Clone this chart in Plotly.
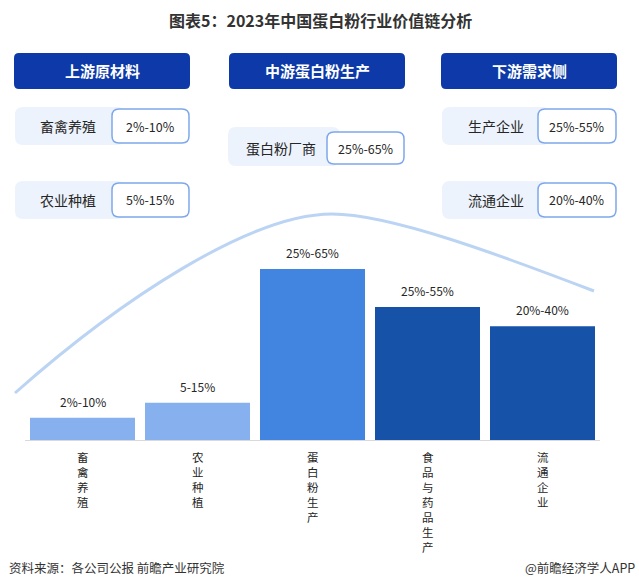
import plotly.graph_objects as go

# ---------------- data ----------------
categories = ["畜禽养殖", "农业种植", "蛋白粉生产", "食品与药品生产", "流通企业"]
bar_values = [8.5, 14.2, 65, 50.5, 43.2]
bar_labels = ["2%-10%", "5-15%", "25%-65%", "25%-55%", "20%-40%"]

stage_titles = ["上游原材料", "中游蛋白粉生产", "下游需求侧"]
upstream_items = ["畜禽养殖", "农业种植"]
upstream_margins = ["2%-10%", "5%-15%"]
midstream_items = ["蛋白粉厂商"]
midstream_margins = ["25%-65%"]
downstream_items = ["生产企业", "流通企业"]
downstream_margins = ["25%-55%", "20%-40%"]

title_text = "图表5：2023年中国蛋白粉行业价值链分析"
source_text = "资料来源：各公司公报 前瞻产业研究院"
brand_text = "@前瞻经济学人APP"

# ---------------- style ----------------
W, H = 639, 588
FONT = "Noto Sans CJK SC"
bar_colors = ["#86B1EE", "#86B1EE", "#4285E0", "#1652A8", "#1652A8"]
HEADER = "#0D3AA8"
LIGHT = "#EDF3FC"
BORDER = "#7EA8EA"
TXT = "#262626"


def px(x):
    return x / W


def py(y):
    return 1 - y / H


def rrect(x0, y0, x1, y1, r):
    pts = [
        ("M", (x0 + r, y0)), ("L", (x1 - r, y0)), ("Q", (x1, y0), (x1, y0 + r)),
        ("L", (x1, y1 - r)), ("Q", (x1, y1), (x1 - r, y1)),
        ("L", (x0 + r, y1)), ("Q", (x0, y1), (x0, y1 - r)),
        ("L", (x0, y0 + r)), ("Q", (x0, y0), (x0 + r, y0)),
    ]
    s = ""
    for p in pts:
        cmd = p[0]
        coords = " ".join(f"{px(a):.5f},{py(b):.5f}" for a, b in p[1:])
        s += f"{cmd} {coords} "
    return s + "Z"


def txt(text, x, y, size, color=TXT, xanchor="center", **kw):
    d = dict(text=text, x=px(x), y=py(y), xref="paper", yref="paper", showarrow=False,
             xanchor=xanchor, yanchor="middle", font=dict(size=size, color=color, family=FONT))
    d.update(kw)
    return d


fig = go.Figure()
fig.add_trace(go.Bar(
    x=categories, y=bar_values, marker=dict(color=bar_colors, line=dict(width=0)),
    hoverinfo="skip", showlegend=False,
))

shapes = []
annotations = []

# title
annotations.append(txt(f"<b>{title_text}</b>", 320, 20, 16, color="#333333"))

# header boxes
header_boxes = [(14, 53, 190, 89), (229, 53, 405, 89), (441, 53, 617, 89)]
for (x0, y0, x1, y1), t in zip(header_boxes, stage_titles):
    shapes.append(dict(type="path", path=rrect(x0, y0, x1, y1, 5), xref="paper", yref="paper",
                       fillcolor=HEADER, line=dict(width=0), layer="below"))
    annotations.append(txt(f"<b>{t}</b>", (x0 + x1) / 2, (y0 + y1) / 2, 15, color="white"))


def item_row(lx0, ly0, lx1, ly1, wx0, wy0, wx1, wy1, label, val, label_cx):
    shapes.append(dict(type="path", path=rrect(lx0, ly0, lx1, ly1, 8), xref="paper", yref="paper",
                       fillcolor=LIGHT, line=dict(width=0), layer="below"))
    shapes.append(dict(type="path", path=rrect(wx0, wy0, wx1, wy1, 7), xref="paper", yref="paper",
                       fillcolor="white", line=dict(width=1.5, color=BORDER), layer="below"))
    cy = (wy0 + wy1) / 2
    annotations.append(txt(label, label_cx, cy, 14))
    annotations.append(txt(val, (wx0 + wx1) / 2, cy, 12.5))


item_row(15, 107, 125, 145, 112, 109, 189, 143, upstream_items[0], upstream_margins[0], 68)
item_row(15, 181, 125, 219, 112, 183, 189, 217, upstream_items[1], upstream_margins[1], 68)
item_row(228, 127, 340, 166, 327, 132, 404, 164, midstream_items[0], midstream_margins[0], 281)
item_row(442, 107, 550, 145, 538, 109, 616, 143, downstream_items[0], downstream_margins[0], 496)
item_row(442, 181, 550, 219, 538, 183, 616, 217, downstream_items[1], downstream_margins[1], 496)

# decorative arc
arc = (f"M {px(15):.5f},{py(393):.5f} C {px(120):.5f},{py(300):.5f} {px(250):.5f},{py(214):.5f} "
       f"{px(332):.5f},{py(214):.5f} C {px(390):.5f},{py(214):.5f} {px(500):.5f},{py(255):.5f} "
       f"{px(594):.5f},{py(291):.5f}")
shapes.append(dict(type="path", path=arc, xref="paper", yref="paper",
                   line=dict(color="#BBD4F4", width=3), layer="below"))

# bar value labels
for c, v, lab in zip(categories, bar_values, bar_labels):
    annotations.append(dict(text=lab, x=c, y=v, xref="x", yref="y", xanchor="center",
                            yanchor="bottom", yshift=6, showarrow=False,
                            font=dict(size=12, color=TXT, family=FONT)))

# vertical category labels (one character per line)
for c in categories:
    annotations.append(dict(text="<br>".join(c), x=c, y=py(447), xref="x", yref="paper",
                            showarrow=False, xanchor="center", yanchor="top",
                            font=dict(size=11.5, color=TXT, family=FONT)))

# footer
annotations.append(txt(source_text, 7, 567, 12.5, color="#333333", xanchor="left"))
annotations.append(txt(brand_text, 637, 567, 12.5, color="#333333", xanchor="right"))

fig.update_layout(
    width=W, height=H, margin=dict(l=0, r=0, t=0, b=0, pad=0),
    paper_bgcolor="white", plot_bgcolor="white",
    bargap=10 / 115,
    shapes=shapes, annotations=annotations,
    font=dict(family=FONT),
    xaxis=dict(domain=[px(25), px(600)], showticklabels=False, ticks="", showgrid=False,
               zeroline=False, showline=True, linecolor="#D9D9D9", linewidth=1, fixedrange=True),
    yaxis=dict(domain=[1 - 440 / H, 1 - 255.8 / H], range=[0, 70], showticklabels=False,
               showgrid=False, zeroline=False, showline=False, fixedrange=True),
)

fig.write_html("out.html")
